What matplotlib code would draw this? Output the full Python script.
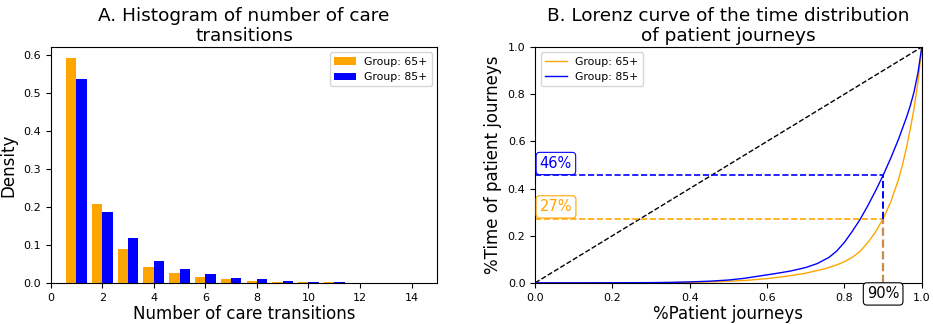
import matplotlib
matplotlib.use('Agg')
from matplotlib import pyplot
import numpy

# доля пациентов по числу переходов (плотность), бины 1..14
transitions = numpy.arange(1, 15)
dens_65 = [0.591, 0.208, 0.089, 0.042, 0.026, 0.016, 0.009, 0.005, 0.003, 0.003, 0.001, 0.0005, 0.0003, 0.0002]
dens_85 = [0.537, 0.187, 0.118, 0.058, 0.036, 0.024, 0.013, 0.009, 0.005, 0.003, 0.003, 0.0005, 0.0003, 0.0002]

# кривые Лоренца: доля пациентов -> доля времени
lorenz_x_65 = [0.0, 0.1, 0.2, 0.3, 0.4, 0.45, 0.5, 0.55, 0.6, 0.65, 0.7, 0.75, 0.78, 0.8, 0.82, 0.84, 0.86,
               0.88, 0.9, 0.92, 0.94, 0.95, 0.96, 0.97, 0.98, 0.99, 1.0]
lorenz_y_65 = [0.0, 0.0, 0.0002, 0.0005, 0.002, 0.004, 0.007, 0.011, 0.018, 0.028, 0.041, 0.060, 0.076, 0.090,
               0.108, 0.133, 0.170, 0.215, 0.272, 0.345, 0.440, 0.50, 0.57, 0.65, 0.74, 0.85, 1.0]
lorenz_x_85 = [0.0, 0.1, 0.2, 0.3, 0.35, 0.4, 0.45, 0.5, 0.54, 0.58, 0.62, 0.66, 0.7, 0.73, 0.76, 0.78, 0.8,
               0.82, 0.84, 0.86, 0.88, 0.9, 0.92, 0.94, 0.96, 0.97, 0.98, 0.99, 1.0]
lorenz_y_85 = [0.0, 0.0, 0.0004, 0.001, 0.002, 0.004, 0.007, 0.012, 0.019, 0.029, 0.039, 0.050, 0.065, 0.082,
               0.108, 0.135, 0.172, 0.218, 0.268, 0.326, 0.389, 0.456, 0.53, 0.61, 0.70, 0.75, 0.81, 0.89, 1.0]

# отметка 90% пациентов
cut_x = 0.9
cut_y_65 = 0.272
cut_y_85 = 0.456

fig, (ax1, ax2) = pyplot.subplots(1, 2, figsize=(9.33, 3.24), dpi=100)
fig.subplots_adjust(left=0.0543, right=0.988, top=0.855, bottom=0.127, wspace=0.253)

# гистограмма
ax1.bar(transitions - 0.2, dens_65, width=0.4, color='orange', label='Group: 65+')
ax1.bar(transitions + 0.2, dens_85, width=0.4, color='blue', label='Group: 85+')
ax1.set_xlim(0, 15)
ax1.set_ylim(0, 0.621)
ax1.set_xticks(range(0, 15, 2))
ax1.tick_params(labelsize=8)
ax1.set_xlabel('Number of care transitions', fontsize=12, labelpad=2)
ax1.set_ylabel('Density', fontsize=12)
ax1.set_title('A. Histogram of number of care\ntransitions', fontsize=13.3, pad=4)
ax1.legend(loc='upper right', fontsize=7.8)

# кривые Лоренца
ax2.plot([0, 1], [0, 1], 'k--', linewidth=1)
ax2.plot(lorenz_x_65, lorenz_y_65, color='orange', linewidth=1, label='Group: 65+')
ax2.plot(lorenz_x_85, lorenz_y_85, color='blue', linewidth=1, label='Group: 85+')

# пунктир до точки 90%; нижний отрезок — наложение двух групп
ax2.plot([0, cut_x], [cut_y_85, cut_y_85], '--', color='blue', linewidth=1.2)
ax2.plot([0, cut_x], [cut_y_65, cut_y_65], '--', color='orange', linewidth=1.2)
ax2.plot([cut_x, cut_x], [cut_y_65, cut_y_85], '--', color='blue', linewidth=1.4, zorder=3)
ax2.plot([cut_x, cut_x], [0, cut_y_65], '--', color='#cd8a48', linewidth=1.6, zorder=4)

ax2.text(0.012, cut_y_85 + 0.05, f'{cut_y_85:.0%}', color='blue', fontsize=10.5, va='center',
         bbox=dict(boxstyle='round,pad=0.25', fc='white', ec='blue', lw=0.8))
ax2.text(0.012, cut_y_65 + 0.05, f'{cut_y_65:.0%}', color='orange', fontsize=10.5, va='center',
         bbox=dict(boxstyle='round,pad=0.25', fc='white', ec='orange', lw=0.8))
ax2.text(cut_x, -0.047, f'{cut_x:.0%}', color='black', fontsize=10.5, ha='center', va='center',
         bbox=dict(boxstyle='round,pad=0.25', fc='white', ec='black', lw=0.8), zorder=5, clip_on=False)

ax2.set_xlim(0, 1)
ax2.set_ylim(0, 1)
ax2.tick_params(labelsize=8)
ax2.set_xlabel('%Patient journeys', fontsize=12, labelpad=2)
ax2.set_ylabel('%Time of patient journeys', fontsize=12)
ax2.set_title('B. Lorenz curve of the time distribution\nof patient journeys', fontsize=13.3, pad=4)
ax2.legend(loc='upper left', fontsize=7.8)

fig.savefig('out.png')
